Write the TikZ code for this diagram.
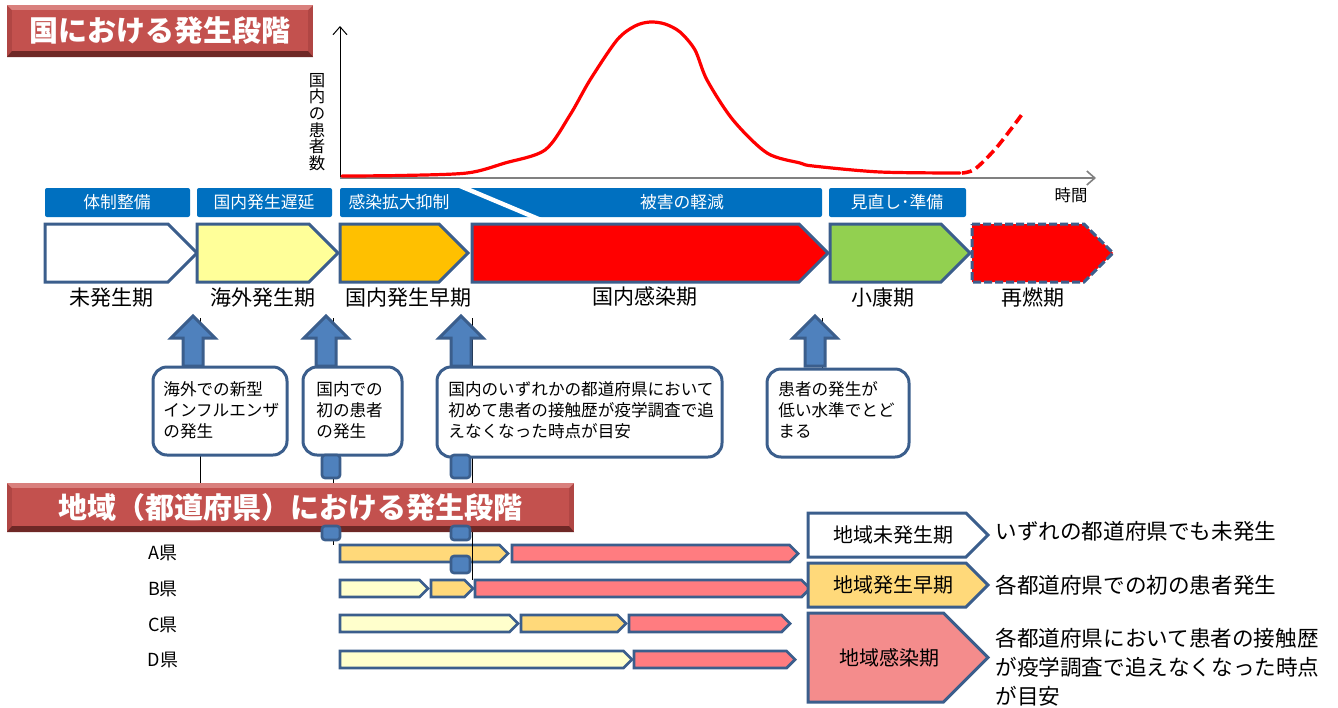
\documentclass[tikz,border=0pt]{standalone}
\usepackage{fontspec}
\setmainfont{Noto Sans CJK JP}
\usetikzlibrary{arrows.meta}

\definecolor{phaseblue}{HTML}{3B5E8C}
\definecolor{barblue}{HTML}{0070C0}
\definecolor{arrowfill}{HTML}{4F81BD}
\definecolor{paleyellow}{HTML}{FFFF99}
\definecolor{phaseorange}{HTML}{FFC000}
\definecolor{phasegreen}{HTML}{92D050}
\definecolor{rowpale}{HTML}{FFFFCC}
\definecolor{roworange}{HTML}{FFD97A}
\definecolor{rowsalmon}{HTML}{FF7C80}
\definecolor{legendpink}{HTML}{F48C8C}
\definecolor{titlered}{HTML}{C3514E}
\definecolor{beveltop}{HTML}{D9807D}
\definecolor{bevelside}{HTML}{B04644}
\definecolor{bevelbottom}{HTML}{6E2826}

% pointed box: style, name, x left, x tip, y top, y bottom
\newcommand{\homeplate}[6]{%
  \draw[#1] (#3,#5) -- ({#4-(#6-#5)/2},#5) -- (#4,{(#5+#6)/2})
    -- ({#4-(#6-#5)/2},#6) -- (#3,#6) -- cycle;
  \coordinate (#2) at ({(#3+#4)/2},{(#5+#6)/2});
}

% block arrow pointing up: name, x centre
\newcommand{\upblock}[2]{%
  \draw[upblock] (#2,316) -- ({#2+22},338) -- ({#2+10},338) -- ({#2+10},366)
    -- ({#2-10},366) -- ({#2-10},338) -- ({#2-22},338) -- cycle;
  \coordinate (#1) at (#2,316);
}

% bevelled title: name, x1, y1, x2, y2, text
\newcommand{\bevelbox}[6]{%
  \fill[bevelside] (#2,#3) rectangle (#4,#5);
  \fill[beveltop] (#2,#3) -- (#4,#3) -- ({#4-5},{#3+5}) -- ({#2+5},{#3+5}) -- cycle;
  \fill[bevelbottom] (#2,#5) -- (#4,#5) -- ({#4-5},{#5-6}) -- ({#2+5},{#5-6}) -- cycle;
  \fill[titlered] ({#2+5},{#3+5}) rectangle ({#4-5},{#5-6});
  \node[titletext] (#1) at ({(#2+#4)/2},{(#3+#5)/2}) {#6};
}

\begin{document}
\begin{tikzpicture}[
    x=0.5pt, y=-0.5pt,
    line join=miter,
    phase/.style={draw=phaseblue, line width=1.5pt},
    rowbar/.style={draw=phaseblue, line width=1.4pt},
    bluebar/.style={fill=barblue, rounded corners=1pt},
    bartext/.style={text=white, font=\fontsize{8.4}{9}\selectfont},
    phaselabel/.style={font=\fontsize{10.5}{12}\selectfont},
    titletext/.style={text=white, font=\bfseries\fontsize{14.5}{16}\selectfont},
    callout/.style={draw=phaseblue, line width=1.5pt, fill=white, rounded corners=7pt},
    callouttext/.style={anchor=north west, inner sep=0pt, align=left,
      font=\fontsize{8.3}{10.5}\selectfont},
    upblock/.style={fill=arrowfill, draw=phaseblue, line width=1.5pt},
    handle/.style={fill=arrowfill, draw=phaseblue, line width=1.3pt, rounded corners=1.5pt},
    guide/.style={black, line width=0.4pt},
    legendtext/.style={font=\fontsize{10}{12}\selectfont},
    desctext/.style={anchor=west, inner sep=0pt, align=left,
      font=\fontsize{10.8}{14.5}\selectfont}
]

\useasboundingbox (0,0) rectangle (1338,707);

% --- national title ---
\bevelbox{natTitle}{7}{5}{313}{57}{国における発生段階}

% --- axes and patient curve ---
\coordinate (origin) at (340,178);
\coordinate (yTop) at (340,26);
\coordinate (xEnd) at (1096,178);
\draw[black, line width=0.5pt, -{Straight Barb[length=4pt,width=7pt]}] (origin) -- (yTop);
\draw[gray, line width=0.8pt, -{Straight Barb[length=4pt,width=7pt]}] (origin) -- (xEnd);
\node[font=\fontsize{8.2}{8.3}\selectfont, align=center, inner sep=0pt] (yLabel) at (317,122)
  {国\\内\\の\\患\\者\\数};
\node[font=\fontsize{8.2}{10}\selectfont, inner sep=0pt] (xLabel) at (1071,195) {時間};

\draw[red, line width=1.6pt, line cap=round] plot[smooth, tension=0.5] coordinates {
  (342,176) (400,175.5) (467,173) (505,163) (545,150) (570,115) (590,80)
  (617,40) (635,26) (650,22) (665,24) (680,32) (695,50) (707,80) (733,120)
  (767,153) (800,163) (813,166) (880,172) (960,173)};
\draw[red, line width=1.8pt, dash pattern=on 5pt off 2.5pt] plot[smooth, tension=0.5] coordinates {
  (962,173) (975,169) (997,147) (1023,113)};

% --- countermeasure bars ---
\fill[bluebar] (45,188) rectangle (190,217);
\fill[bluebar] (197,188) rectangle (332,217);
\fill[bluebar] (340,188) rectangle (822,217);
\fill[bluebar] (829,188) rectangle (966,217);
\draw[white, line width=2.2pt] (460,186) -- (541,220);
\node[bartext] (bt1) at (117,202) {体制整備};
\node[bartext] (bt2) at (264,202) {国内発生遅延};
\node[bartext] (bt3) at (399,202) {感染拡大抑制};
\node[bartext] (bt4) at (682,202) {被害の軽減};
\node[bartext] (bt5) at (897,202) {見直し･準備};

% --- national phases ---
\homeplate{phase, fill=white}{ph1}{45}{197}{224}{282}
\homeplate{phase, fill=paleyellow}{ph2}{197}{338}{224}{282}
\homeplate{phase, fill=phaseorange}{ph3}{340}{468}{224}{282}
\homeplate{phase, fill=red}{ph4}{472}{828}{224}{282}
\homeplate{phase, fill=phasegreen}{ph5}{830}{970}{224}{282}
\homeplate{phase, fill=red, dash pattern=on 4pt off 1.5pt}{ph6}{972}{1113}{224}{282}
\node[phaselabel] (pl1) at (111,298) {未発生期};
\node[phaselabel] (pl2) at (263,298) {海外発生期};
\node[phaselabel] (pl3) at (408,298) {国内発生早期};
\node[phaselabel] (pl4) at (645,296) {国内感染期};
\node[phaselabel] (pl5) at (883,298) {小康期};
\node[phaselabel] (pl6) at (1033,298) {再燃期};

% --- prefecture rows ---
\foreach \lab/\yy in {A/553, B/589, C/625, D/660}
  \node[font=\fontsize{9}{10}\selectfont] (row\lab) at (163,\yy) {\lab 県};

\homeplate{rowbar, fill=roworange}{a1}{340}{508}{545}{562}
\homeplate{rowbar, fill=rowsalmon}{a2}{512}{798}{545}{562}
\homeplate{rowbar, fill=rowpale}{b1}{340}{428}{580}{597}
\homeplate{rowbar, fill=roworange}{b2}{431}{473}{580}{597}
\homeplate{rowbar, fill=rowsalmon}{b3}{475}{810}{580}{597}
\homeplate{rowbar, fill=rowpale}{c1}{340}{518}{615}{632}
\homeplate{rowbar, fill=roworange}{c2}{521}{626}{615}{632}
\homeplate{rowbar, fill=rowsalmon}{c3}{629}{790}{615}{632}
\homeplate{rowbar, fill=rowpale}{d1}{340}{632}{651}{668}
\homeplate{rowbar, fill=rowsalmon}{d2}{634}{795}{651}{668}

% --- guide lines behind the callouts ---
\coordinate (g1top) at (200,318);  \coordinate (g1bot) at (200,483);
\coordinate (g2top) at (333,318);  \coordinate (g2bot) at (333,545);
\coordinate (g3top) at (472,318);  \coordinate (g3bot) at (472,580);
\coordinate (g4top) at (822,318);  \coordinate (g4bot) at (822,369);
\foreach \g in {1,2,3,4}
  \draw[guide] (g\g top) -- (g\g bot);

% --- regional title ---
\bevelbox{regTitle}{7}{483}{574}{532}{地域（都道府県）における発生段階}

% --- callouts ---
\draw[callout] (153,367) rectangle (287,455);
\draw[callout] (303,367) rectangle (402,455);
\draw[callout] (437,367) rectangle (722,457);
\draw[callout] (767,369) rectangle (909,457);
\node[callouttext] (co1) at (163,381) {海外での新型\\インフルエンザ\\の発生};
\node[callouttext] (co2) at (316,381) {国内での\\初の患者\\の発生};
\node[callouttext] (co3) at (448,381) {国内のいずれかの都道府県において\\初めて患者の接触歴が疫学調査で追\\えなくなった時点が目安};
\node[callouttext] (co4) at (778,381) {患者の発生が\\低い水準でとど\\まる};

% --- up arrows ---
\upblock{up1}{193}
\upblock{up2}{326}
\upblock{up3}{461}
\upblock{up4}{815}

% --- handles ---
\draw[handle] (322,455) rectangle (340,478);
\draw[handle] (451,455) rectangle (470,478);
\draw[handle] (322,526) rectangle (340,540);
\draw[handle] (451,526) rectangle (470,540);
\draw[handle] (451,556) rectangle (470,573);

% --- legend ---
\homeplate{phase, fill=white}{lg1}{808}{988}{513}{557}
\homeplate{phase, fill=roworange}{lg2}{808}{988}{563}{607}
\homeplate{phase, fill=legendpink}{lg3}{808}{988}{613}{702}
\node[legendtext] (lt1) at (893,535) {地域未発生期};
\node[legendtext] (lt2) at (893,585) {地域発生早期};
\node[legendtext] (lt3) at (889,658) {地域感染期};
\node[desctext] (ds1) at (995,531) {いずれの都道府県でも未発生};
\node[desctext] (ds2) at (995,585) {各都道府県での初の患者発生};
\node[desctext] (ds3) at (995,667) {各都道府県において患者の接触歴\\が疫学調査で追えなくなった時点\\が目安};

\end{tikzpicture}
\end{document}
